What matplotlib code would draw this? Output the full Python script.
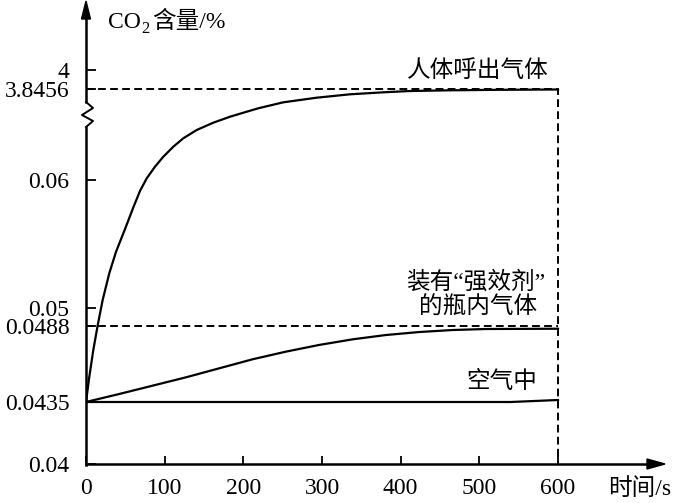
import numpy as np
import matplotlib
matplotlib.use("Agg")
import matplotlib.pyplot as plt
from matplotlib.lines import Line2D
from matplotlib.transforms import Affine2D

plt.rcParams['font.family'] = ['Liberation Serif', 'Noto Sans CJK SC']

W, H = 677, 503

# --- data ---
y_ticks = [0.04, 0.0435, 0.0488, 0.05, 0.06, 3.8456, 4]
y_tick_labels = ["0.04", "0.0435", "0.0488", "0.05", "0.06", "3.8456", "4"]
x_ticks = [0, 100, 200, 300, 400, 500, 600]

t_exhaled = [0, 4.2, 9.3, 14.7, 21.2, 29.6, 38.1, 49.6, 60.1, 68.6, 77.2, 87.7,
             98.3, 111.0, 123.7, 140.7, 161.8, 183.1, 204.3, 219.0, 250.8,
             293.3, 335.6, 377.9, 411.9, 462.7, 526.3, 600]
co2_exhaled = [0.0435, 0.04526, 0.04713, 0.0488, 0.05063, 0.05271, 0.05438,
               0.05617, 0.05785, 0.05914, 0.1307, 0.6133, 1.029, 1.445, 1.795,
               2.140, 2.444, 2.693, 2.901, 3.043, 3.292, 3.484, 3.625, 3.708,
               3.762, 3.791, 3.812, 3.825]

t_bottle = [0, 42.4, 84.7, 127, 169.4, 211.8, 254, 296.5, 338.9, 381, 423.6,
            466, 508, 600]
co2_bottle = [0.0435, 0.04406, 0.04464, 0.04522, 0.04585, 0.04648, 0.04701,
              0.04748, 0.04787, 0.04817, 0.04838, 0.04852, 0.04859, 0.04861]

t_air = [0, 540, 600]
co2_air = [0.0435, 0.0435, 0.04364]

# broken y axis: each tick value sits at its own height (pixels above x axis)
knot_vals = [0.03, 0.04, 0.0435, 0.0488, 0.05, 0.06, 3.8456, 4, 5]
knot_pos = [-20, 0, 62, 138, 156, 284, 375, 394, 462]


def fwd(v):
    return np.interp(v, knot_vals, knot_pos)


def inv(p):
    return np.interp(p, knot_pos, knot_vals)


fig = plt.figure(figsize=(W / 100, H / 100), dpi=100)
# image pixel coordinates (y down) for axis decorations and labels
pix = Affine2D().scale(1 / 100, -1 / 100).translate(0, H / 100) + fig.dpi_scale_trans

ax = fig.add_axes([86 / W, (H - 464) / H, (665 - 86) / W, 462 / H])
ax.set_yscale('function', functions=(fwd, inv))
ax.set_xlim(0, 736)
ax.set_ylim(0.04, 5)
for s in ax.spines.values():
    s.set_visible(False)

lw = 1.6
ax.plot(t_exhaled, co2_exhaled, color='black', lw=lw, solid_joinstyle='round')
ax.plot(t_bottle, co2_bottle, color='black', lw=lw, solid_joinstyle='round')
ax.plot(t_air, co2_air, color='black', lw=lw)

dash = (0, (4, 2.2))
ax.plot([0, 600, 600], [3.8456, 3.8456, 0.04], color='black', lw=1.4, ls=dash)
ax.plot([0, 600], [0.0488, 0.0488], color='black', lw=1.4, ls=dash)

ax.set_yticks(y_ticks)
ax.set_yticklabels(y_tick_labels)
ax.set_xticks(x_ticks)
ax.set_xticklabels([str(x) for x in x_ticks])
ax.yaxis.set_minor_locator(matplotlib.ticker.NullLocator())
ax.tick_params(axis='y', direction='in', length=7, width=1.3, pad=12, labelsize=17)
ax.tick_params(axis='x', direction='in', length=6, width=1.3, pad=10, labelsize=17)

# axes lines with arrows and the break mark
ax_lw = 1.8
fig.add_artist(Line2D([86, 650], [464, 464], color='black', lw=ax_lw, transform=pix))
fig.add_artist(Line2D([86, 86], [465, 127], color='black', lw=ax_lw, transform=pix))
fig.add_artist(Line2D([86, 93, 82, 93, 86], [127, 121, 115, 108, 102],
                      color='black', lw=1.4, transform=pix))
fig.add_artist(Line2D([86, 86], [102, 16], color='black', lw=ax_lw, transform=pix))
fig.add_artist(plt.Polygon([[647, 459], [665, 464], [647, 469]], closed=True,
                           color='black', transform=pix))
fig.add_artist(plt.Polygon([[81.5, 19], [86, 1], [90.5, 19]], closed=True,
                           color='black', transform=pix))

# labels
fs = 17
fig.text(108, 28, "CO", fontsize=fs, transform=pix, va='baseline')
fig.text(141, 33, "2", fontsize=12, transform=pix, va='baseline')
fig.text(152, 28, "含量/%", fontsize=fs, transform=pix, va='baseline')
fig.text(640, 489, "时间/s", fontsize=fs, transform=pix, ha='center', va='center')
fig.text(478, 71, "人体呼出气体", fontsize=fs, transform=pix, ha='center', va='center')
fig.text(476, 282, "装有“强效剂”", fontsize=fs, transform=pix, ha='center', va='center')
fig.text(478, 308, "的瓶内气体", fontsize=fs, transform=pix, ha='center', va='center')
fig.text(502, 382, "空气中", fontsize=fs, transform=pix, ha='center', va='center')

fig.savefig("out.png", dpi=100)
